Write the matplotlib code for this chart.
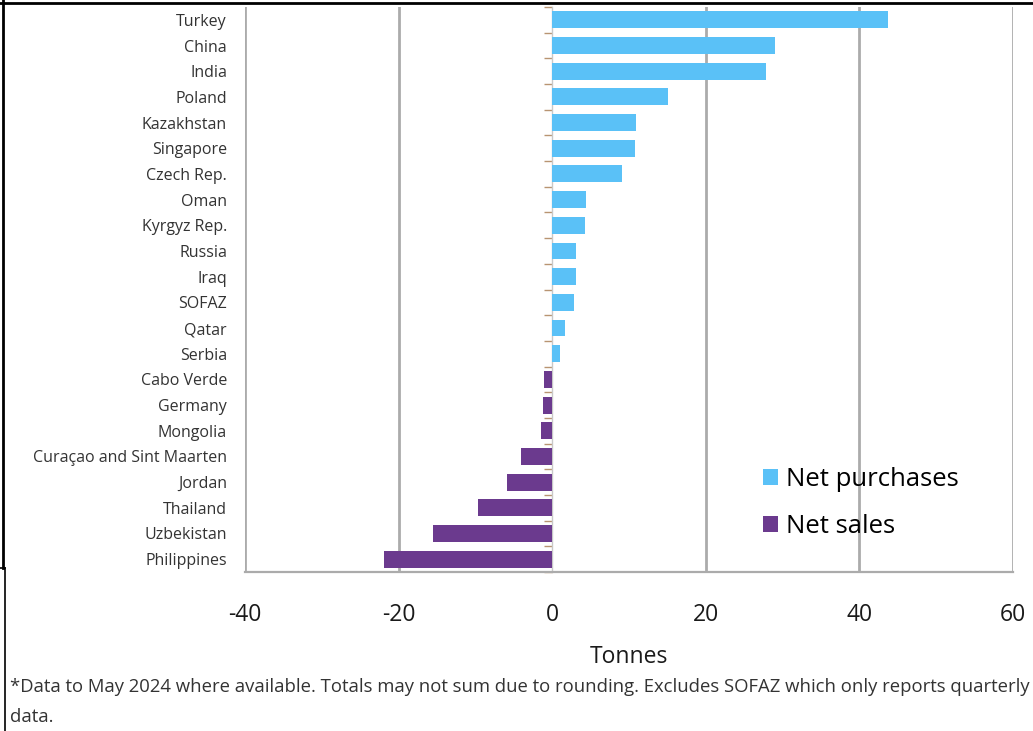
import matplotlib
matplotlib.use("Agg")
import matplotlib.pyplot as plt
from matplotlib.lines import Line2D
from matplotlib.patches import Patch
import numpy as np

plt.rcParams['font.family'] = ['Open Sans', 'DejaVu Sans']

countries = ["Turkey", "China", "India", "Poland", "Kazakhstan", "Singapore",
             "Czech Rep.", "Oman", "Kyrgyz Rep.", "Russia", "Iraq", "SOFAZ",
             "Qatar", "Serbia", "Cabo Verde", "Germany", "Mongolia",
             "Curaçao and Sint Maarten", "Jordan", "Thailand", "Uzbekistan",
             "Philippines"]
values = [43.7, 29.0, 27.9, 15.1, 10.9, 10.8, 9.1, 4.4, 4.3, 3.1, 3.1, 2.8,
          1.7, 1.0, -1.1, -1.2, -1.5, -4.0, -5.9, -9.7, -15.5, -21.9]
xticks = [-40, -20, 0, 20, 40, 60]
legend_labels = ["Net purchases", "Net sales"]
xlabel = "Tonnes"
footnote_lines = ["*Data to May 2024 where available. Totals may not sum due to rounding. "
                  "Excludes SOFAZ which only reports quarterly",
                  "data."]

BLUE = '#5ac1f7'
PURPLE = '#6b3a8e'
GRID = '#ababab'

W, H = 1033, 731
fig = plt.figure(figsize=(W / 100, H / 100), dpi=100)
ax = fig.add_axes([245 / W, 1 - 572 / H, (1013 - 245) / W, (572 - 7) / H])

y = np.arange(len(countries))
colors = [BLUE if v >= 0 else PURPLE for v in values]
ax.barh(y, values, height=0.66, color=colors, zorder=3)

ax.set_xlim(-40, 60)
ax.set_ylim(len(countries) - 0.5, -0.5)
ax.set_xticks(xticks)
ax.set_xticklabels([str(t) for t in xticks], fontsize=16.5, color='#1a1a1a')
ax.tick_params(axis='x', length=0, pad=22)
ax.set_yticks(y)
ax.set_yticklabels(countries, fontsize=11.5, color='#333333')
ax.tick_params(axis='y', length=0, pad=13)
ax.set_xlabel(xlabel, fontsize=16.5, color='#1a1a1a', labelpad=13)

for xv in xticks:
    if xv != 0:
        ax.axvline(xv, color=GRID, lw=2, zorder=1)

for s in ['top', 'right', 'left']:
    ax.spines[s].set_visible(False)
ax.spines['bottom'].set_color(GRID)
ax.spines['bottom'].set_linewidth(1.6)

# zero axis with category-separator ticks
sec = ax.secondary_yaxis((0 - (-40)) / 100)
sec.set_yticks(np.arange(len(countries) + 1) - 0.5)
sec.set_yticklabels([])
sec.tick_params(axis='y', length=6, width=1, color='#b89472', direction='out')
sec.spines['left'].set_color('#c8c8c8')
sec.spines['left'].set_linewidth(1)

handles = [Patch(facecolor=BLUE, edgecolor='none'), Patch(facecolor=PURPLE, edgecolor='none')]
ax.legend(handles, legend_labels, loc='center left', bbox_to_anchor=(0.661, 0.122),
          frameon=False, fontsize=18.5, handlelength=0.6, handleheight=0.6,
          handletextpad=0.3, labelspacing=0.85, borderaxespad=0)

fig.text(10 / W, 1 - 687 / H, footnote_lines[0], fontsize=13.3, color='#333333',
         va='center', ha='left')
fig.text(10 / W, 1 - 717 / H, footnote_lines[1], fontsize=13.3, color='#333333',
         va='center', ha='left')

# screenshot frame lines
fig.add_artist(Line2D([0, 1], [1 - 3 / H, 1 - 3 / H], transform=fig.transFigure, color='black', lw=2))
fig.add_artist(Line2D([3 / W, 3 / W], [1, 1 - 568 / H], transform=fig.transFigure, color='black', lw=2))
fig.add_artist(Line2D([0, 5 / W], [1 - 568 / H, 1 - 568 / H], transform=fig.transFigure, color='black', lw=1.2))
fig.add_artist(Line2D([5 / W, 5 / W], [1 - 568 / H, 0], transform=fig.transFigure, color='black', lw=1.2))

fig.savefig('out.png', dpi=100)
